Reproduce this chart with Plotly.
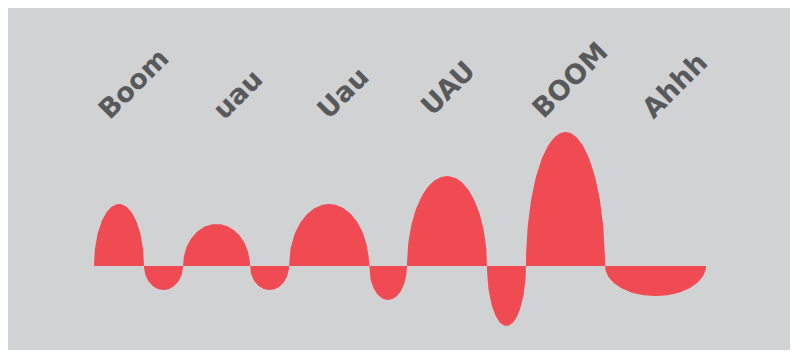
import numpy as np
import plotly.graph_objects as go

# ---- data ----
labels = ["Boom", "uau", "Uau", "UAU", "BOOM", "Ahhh"]
seg_widths = [50, 39, 67, 39, 80, 38, 80, 39, 79, 101]
seg_values = [62, -24, 42, -24, 62, -34, 90, -60, 134, -30]
start_x = 86
label_x = [125, 229, 334, 439, 561, 666]
label_y = [183, 172, 173, 178, 186, 181]

# ---- build half-ellipse outline from the values ----
xs, ys = [], []
x0 = start_x
t = np.linspace(0, np.pi, 90)
for w, v in zip(seg_widths, seg_values):
    r = w / 2.0
    c = x0 + r
    xs.extend(list(c - r * np.cos(t)))
    ys.extend(list(v * np.sin(t)))
    x0 += w

fig = go.Figure()
fig.add_trace(go.Scatter(
    x=xs, y=ys, mode="lines", fill="tozeroy",
    line=dict(width=0, color="#f04a53"),
    fillcolor="#f04a53", hoverinfo="skip", showlegend=False,
))

for txt, lx, ly in zip(labels, label_x, label_y):
    fig.add_annotation(
        x=lx, y=ly, text=txt, textangle=-45, showarrow=False,
        xref="x", yref="y",
        font=dict(family="DejaVu Sans", size=27, color="#58595b", weight="bold"),
    )

fig.update_layout(
    width=790, height=344,
    margin=dict(l=0, r=6, t=0, b=2),
    paper_bgcolor="#ffffff",
    plot_bgcolor="#d1d2d4",
    xaxis=dict(range=[0, 784], visible=False, fixedrange=True),
    yaxis=dict(range=[-84, 258], visible=False, fixedrange=True),
)

fig.write_html("out.html")
